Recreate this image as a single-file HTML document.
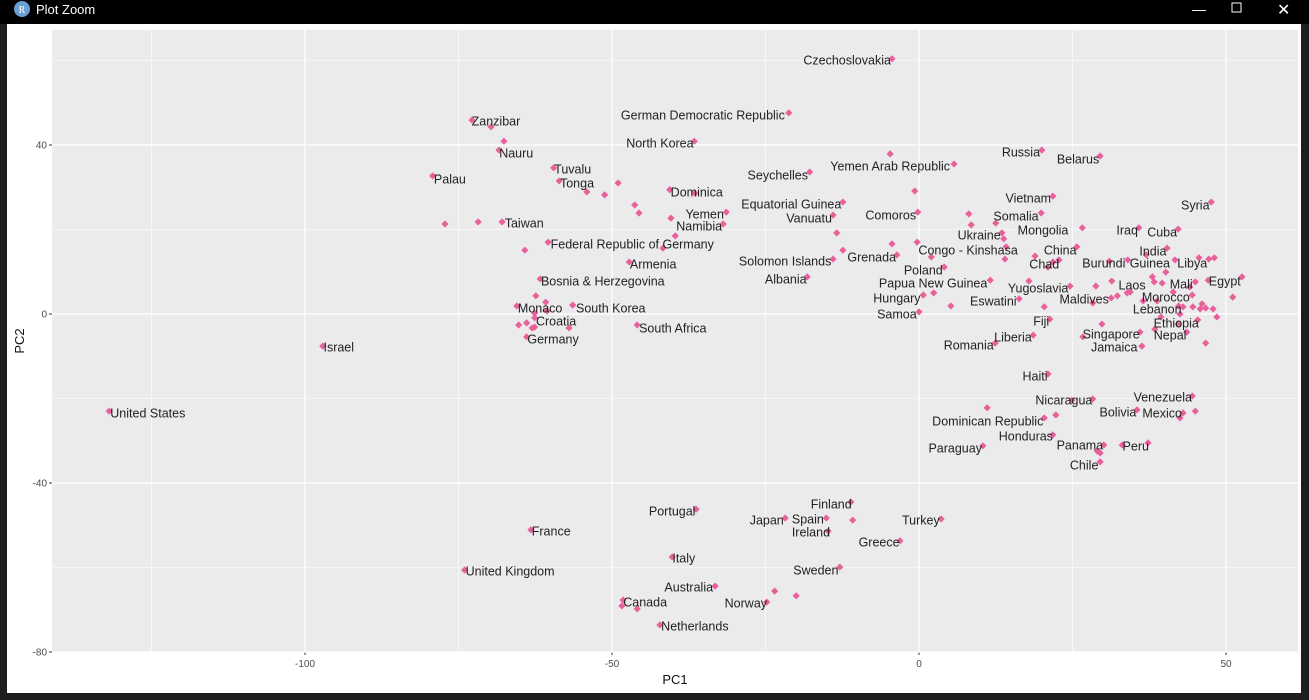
<!DOCTYPE html>
<html><head><meta charset="utf-8"><style>
body{margin:0;width:1309px;height:695px;background:#1e1e1e;overflow:hidden;font-family:"Liberation Sans",sans-serif}
</style></head><body>
<svg width="1309" height="695" xmlns="http://www.w3.org/2000/svg">
<rect x="0" y="0" width="1309" height="24" fill="#000"/>
<circle cx="22" cy="9" r="8" fill="#6a9fd4"/>
<text x="22" y="13" font-size="10" fill="#fff" text-anchor="middle" font-family="Liberation Serif, serif">R</text>
<text x="36" y="14" font-size="13" fill="#fff">Plot Zoom</text>
<text x="1192" y="14" font-size="14" fill="#fff">—</text>
<rect x="1232" y="3" width="9" height="9" fill="none" stroke="#fff"/>
<text x="1277" y="15" font-size="16" fill="#fff">✕</text>
<rect x="7" y="24" width="1294" height="669" fill="#fff"/>
<g id="chart"></g>
</svg>
<script>
const xTicks=[-100,-50,0,50];
const xMinor=[-125,-75,-25,25];
const yTicks=[-80,-40,0,40];
const yMinor=[-60,-20,20,60];
const pc1=[-72.8,-69.7,-67.6,-68.4,-79.2,-59.5,-58.6,-54.1,-51.2,-49.0,-46.3,-45.6,-40.6,-36.5,-40.4,-31.4,-31.9,-77.2,-71.8,-67.9,-64.2,-60.4,-41.7,-39.7,-47.2,-61.7,-62.4,-60.8,-65.5,-56.4,-62.6,-60.6,-62.6,-65.2,-63.9,-63.0,-62.6,-57.0,-63.9,-45.9,-97.1,-131.9,-63.2,-74.0,-36.3,-40.2,-33.2,-48.2,-48.4,-45.9,-42.2,-24.8,-23.5,-20.0,-21.8,-15.1,-14.8,-11.1,-10.8,-3.1,3.6,-12.9,-21.2,-36.6,-4.4,-17.8,-12.4,-14.0,-13.4,-12.4,-14.0,-18.2,-4.7,5.7,20.0,29.5,-0.7,-0.2,-4.4,-3.6,-0.3,2.0,8.1,8.5,12.5,19.9,21.8,13.5,13.8,14.2,14.0,26.6,4.1,25.7,18.9,21.0,21.8,22.8,11.6,0.7,2.4,5.2,0,17.9,24.6,28.8,16.3,20.4,21.3,28.3,29.8,18.6,12.4,26.7,31.0,47.6,35.8,42.2,40.4,37.0,41.7,45.6,47.2,48.1,40.2,31.4,38.0,38.3,39.6,52.6,47.1,45.0,44.1,33.9,34.4,32.3,31.3,41.4,44.5,36.5,38.8,51.1,42.3,43.0,44.6,46.1,45.8,46.7,47.9,48.5,39.4,42.5,45.4,42.2,43.6,38.4,46.7,36.0,36.3,34.0,21.0,44.5,28.3,24.9,35.5,43.0,45.0,42.5,11.1,20.4,22.3,21.8,10.4,30.1,29.0,33.1,37.3,29.5,29.5];
const pc2=[45.9,44.3,40.9,38.8,32.7,34.6,31.5,28.9,28.2,31.0,25.8,23.9,29.4,28.6,22.7,24.1,21.3,21.3,21.8,21.8,15.1,17.0,15.6,18.5,12.3,8.3,4.3,2.8,1.9,2.1,0.2,0.7,-0.9,-2.6,-2.1,-3.3,-3.1,-3.3,-5.4,-2.6,-7.6,-23.0,-51.1,-60.6,-46.2,-57.5,-64.4,-67.7,-69.1,-69.8,-73.6,-68.2,-65.6,-66.7,-48.3,-48.3,-51.4,-44.5,-48.8,-53.7,-48.5,-59.9,47.6,40.9,60.4,33.6,26.5,23.4,19.2,15.1,13.0,8.8,37.9,35.5,38.8,37.4,29.1,24.1,16.6,14.0,17.0,13.5,23.7,21.1,21.5,23.9,27.9,19.2,17.8,15.9,13.0,20.4,11.1,15.9,13.7,11.1,12.3,12.8,8.0,4.5,5.0,1.9,0.5,7.8,6.6,6.6,3.6,1.7,-1.2,2.6,-2.4,-5.0,-6.9,-5.4,12.5,26.5,20.4,20.1,15.6,14.0,12.8,13.3,13.0,13.3,9.9,7.8,8.8,7.6,7.3,8.8,8.0,7.6,6.4,5.0,5.2,4.3,3.8,5.2,4.5,3.1,3.1,4.0,1.9,1.7,1.7,2.4,1.2,1.4,1.2,-0.7,-0.7,0,-1.4,-2.4,-4.3,-3.6,-6.9,-4.3,-7.6,12.8,-14.2,-19.4,-20.1,-20.4,-22.7,-23.4,-23.0,-24.6,-22.2,-24.6,-23.9,-28.6,-31.2,-31.0,-32.4,-31.0,-30.5,-32.9,-35.0];
const labelNames=["Czechoslovakia","German Democratic Republic","North Korea","Zanzibar","Nauru","Palau","Tuvalu","Tonga","Dominica","Yemen","Namibia","Taiwan","Federal Republic of Germany","Armenia","Bosnia & Herzegovina","Monaco","South Korea","Croatia","Germany","South Africa","Israel","United States","France","United Kingdom","Portugal","Italy","Australia","Canada","Netherlands","Norway","Japan","Spain","Ireland","Finland","Greece","Turkey","Sweden","Seychelles","Equatorial Guinea","Vanuatu","Solomon Islands","Albania","Yemen Arab Republic","Comoros","Grenada","Congo - Kinshasa","Poland","Papua New Guinea","Hungary","Samoa","Romania","Liberia","Russia","Belarus","Vietnam","Somalia","Ukraine","Mongolia","China","Chad","Yugoslavia","Eswatini","Fiji","Maldives","Burundi","Iraq","Cuba","Syria","India","Guinea","Libya","Laos","Mali","Egypt","Morocco","Lebanon","Ethiopia","Nepal","Singapore","Jamaica","Haiti","Venezuela","Nicaragua","Bolivia","Mexico","Dominican Republic","Honduras","Paraguay","Panama","Peru","Chile"];
const labelX=[-11.7,-35.2,-42.2,-68.9,-65.6,-76.4,-56.4,-55.7,-36.2,-34.9,-35.8,-64.3,-46.7,-43.3,-51.5,-61.7,-50.2,-59.1,-59.6,-40.1,-94.5,-125.6,-59.9,-66.6,-40.2,-38.3,-37.5,-44.6,-36.5,-28.2,-24.8,-18.1,-17.6,-14.3,-6.5,0.3,-16.8,-23.0,-20.8,-17.9,-21.8,-21.7,-4.7,-4.6,-7.7,8.0,0.7,2.3,-3.6,-3.6,8.1,15.3,16.6,25.9,17.8,15.8,9.8,20.2,23.0,20.4,19.4,12.1,19.9,26.9,30.1,33.9,39.6,45.0,38.1,37.6,44.5,34.7,42.7,49.8,40.2,38.8,41.9,40.9,31.3,31.8,18.9,39.7,23.6,32.4,39.6,11.2,17.4,5.9,26.2,35.3,26.9];
const labelY=[60.1,47.1,40.5,45.7,38.1,32.0,34.3,31.0,28.9,23.7,20.8,21.5,16.6,11.8,7.8,1.4,1.4,-1.7,-5.9,-3.3,-7.8,-23.4,-51.4,-60.8,-46.6,-57.8,-64.6,-68.2,-73.8,-68.4,-48.8,-48.5,-51.6,-45.0,-54.0,-48.8,-60.6,32.9,26.0,22.7,12.5,8.3,35.0,23.4,13.5,15.1,10.4,7.3,3.8,0,-7.3,-5.4,38.3,36.7,27.5,23.2,18.7,19.9,15.1,11.8,6.2,3.1,-1.7,3.6,12.1,19.9,19.4,25.8,14.9,12.1,12.1,6.9,7.1,7.8,4.0,1.2,-2.1,-5.0,-4.7,-7.8,-14.7,-19.6,-20.4,-23.2,-23.4,-25.3,-28.9,-31.7,-31.0,-31.2,-35.7];

const NS="http://www.w3.org/2000/svg";
const P={l:52,r:1298,t:30,b:652};
const sx=v=>919+6.14*v;
const sy=v=>314-4.225*v;
const g=document.getElementById('chart');
function mk(tag,attrs,parent){const e=document.createElementNS(NS,tag);for(const k in attrs)e.setAttribute(k,attrs[k]);(parent||g).appendChild(e);return e;}
const bg=mk('rect',{x:P.l,y:P.t,width:P.r-P.l,height:P.b-P.t,fill:'#ebebeb'});


xMinor.forEach(v=>{const l=mk('line',{x1:sx(v),x2:sx(v),y1:P.t,y2:P.b,stroke:'#fff','stroke-width':0.6});

});
yMinor.forEach(v=>{const l=mk('line',{x1:P.l,x2:P.r,y1:sy(v),y2:sy(v),stroke:'#fff','stroke-width':0.6});

});
xTicks.forEach(v=>{const l=mk('line',{x1:sx(v),x2:sx(v),y1:P.t,y2:P.b,stroke:'#fff','stroke-width':1.2});


const tk=mk('line',{x1:sx(v),x2:sx(v),y1:P.b,y2:P.b+3,stroke:'#333'});


const t=mk('text',{x:sx(v),y:P.b+15,'font-size':10,fill:'#4d4d4d','text-anchor':'middle'});t.textContent=v;

});
yTicks.forEach(v=>{const l=mk('line',{x1:P.l,x2:P.r,y1:sy(v),y2:sy(v),stroke:'#fff','stroke-width':1.2});


const tk=mk('line',{x1:P.l-3,x2:P.l,y1:sy(v),y2:sy(v),stroke:'#333'});


const t=mk('text',{x:P.l-5,y:sy(v)+3.5,'font-size':10,fill:'#4d4d4d','text-anchor':'end'});t.textContent=v;

});
pc1.forEach((v,i)=>{const x=sx(v),y=sy(pc2[i]);
const p=mk('polygon',{points:`${x},${y-3.6} ${x+3.6},${y} ${x},${y+3.6} ${x-3.6},${y}`,fill:'#e8619c'});

});
labelNames.forEach((n,i)=>{const t=mk('text',{x:sx(labelX[i]),y:sy(labelY[i])+4.5,'font-size':12.5,fill:'#222','text-anchor':'middle'});t.textContent=n;

});
const xt=mk('text',{x:(P.l+P.r)/2,y:684,'font-size':13,fill:'#111','text-anchor':'middle'});xt.textContent='PC1';


const yt=mk('text',{x:24,y:(P.t+P.b)/2,'font-size':13,fill:'#111','text-anchor':'middle',transform:`rotate(-90 24 ${(P.t+P.b)/2})`});yt.textContent='PC2';


</script>
</body></html>
